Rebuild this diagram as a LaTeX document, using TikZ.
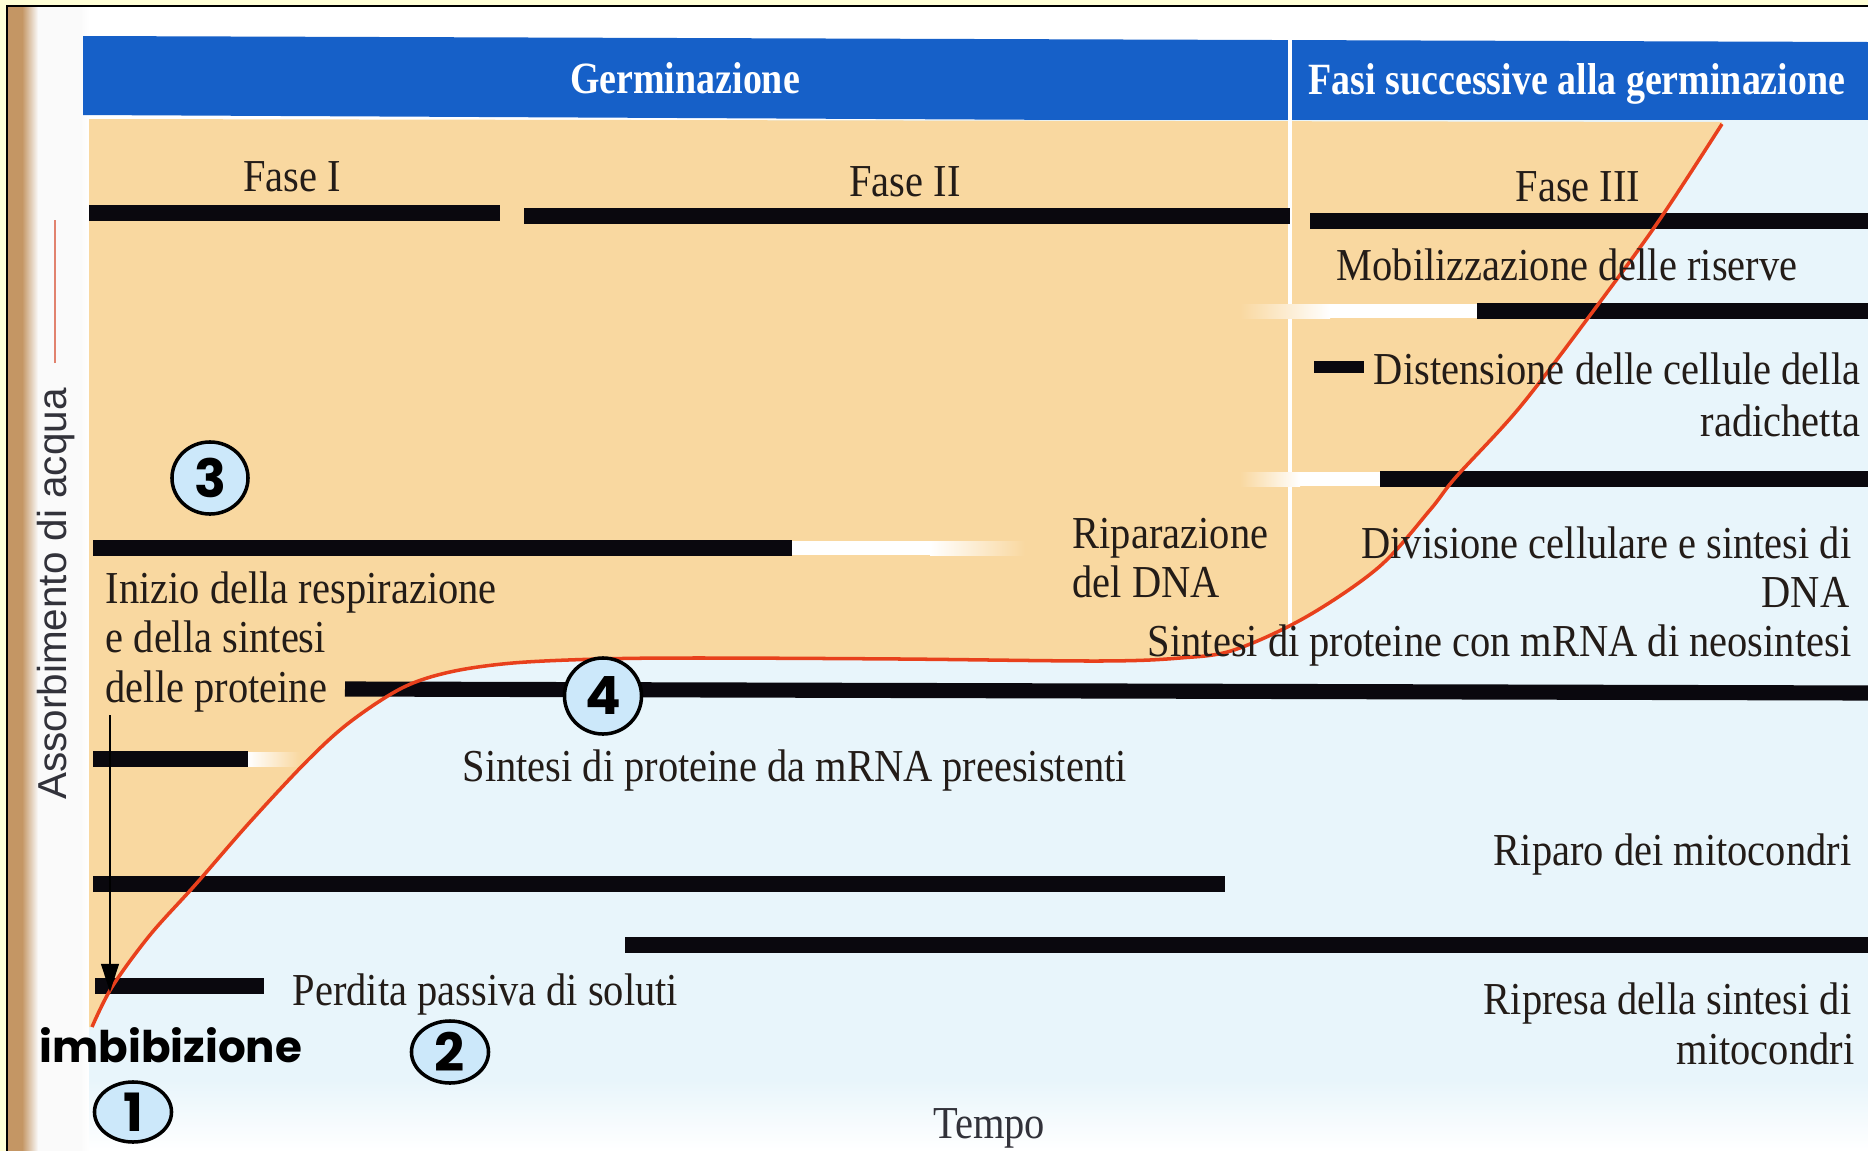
\documentclass[tikz,border=0pt]{standalone}
\usepackage{fontspec}
\setmainfont{Liberation Serif}
\newfontfamily\bodyfont[FakeStretch=0.885]{Liberation Serif}
\newfontfamily\hdrfont[FakeStretch=0.85]{Liberation Serif}
\newfontfamily\popfont{Poppins}
\newfontfamily\axfont{Liberation Sans}
\usetikzlibrary{arrows.meta,shapes.geometric}

\definecolor{bgyellow}{RGB}{255,255,214}
\definecolor{bandblue}{RGB}{22,96,200}
\definecolor{peach}{RGB}{249,216,160}
\definecolor{paleblue}{RGB}{232,245,251}
\definecolor{barblack}{RGB}{10,8,14}
\definecolor{curvered}{RGB}{232,64,28}
\definecolor{circfill}{RGB}{204,232,250}
\definecolor{spine}{RGB}{196,150,100}
\definecolor{inktext}{RGB}{35,28,24}
\definecolor{axisgrey}{RGB}{50,50,58}
\definecolor{salmon}{RGB}{225,130,110}

\begin{document}
\begin{tikzpicture}[x=0.01cm,y=-0.01cm,
  bar/.style={line width=4.3pt, draw=barblack},
  lbl/.style={inner sep=0pt, text=inktext, font=\bodyfont\fontsize{13}{15}\selectfont},
  hdr/.style={inner sep=0pt, text=white, font=\hdrfont\bfseries\fontsize{12.7}{15}\selectfont},
  numcirc/.style={ellipse, draw=black, line width=1pt, fill=circfill, inner sep=0pt,
    font=\popfont\bfseries\fontsize{15}{15}\selectfont},
]
\useasboundingbox (0,0) rectangle (1868,1151);
% background and frame
\fill[bgyellow] (0,0) rectangle (1868,1151);
\fill[white] (8,7) rectangle (1868,1151);
\draw[black, line width=0.7pt] (7,1151) -- (7,6) -- (1868,6);
\fill[spine] (8,7) rectangle (22,1151);
\shade[left color=spine, right color=white!96!gray] (22,7) rectangle (38,1151);
\fill[white!96!gray] (38,7) rectangle (80,1151);
\shade[left color=white!96!gray, right color=white] (80,7) rectangle (89,1151);

% header band
\fill[bandblue] (83,36) -- (1868,42) -- (1868,124) -- (83,115) -- cycle;

% lower pale region
\fill[paleblue] (89,120) rectangle (1868,1080);
\shade[top color=paleblue, bottom color=white] (89,1080) rectangle (1868,1151);

% peach region above the curve
\fill[peach] plot[smooth, tension=0.55] coordinates {(92,1027) (112,987) (150,935) (196,884) (250,822) (308,760) (350,722) (402,688) (450,672) (513,663) (600,659) (700,658) (900,659) (1100,661) (1180,658) (1234,650) (1306,617) (1379,567) (1430,510) (1456,477) (1520,407) (1594,310) (1658,222) (1722,124)}
  -- (1722,122) -- (89,119) -- (89,1027) -- cycle;

% divider
\draw[white, line width=1.2pt] (1290,36) -- (1290,626);

% fades
\shade[left color=peach, right color=white] (1240,304) rectangle (1330,318);
\fill[white] (1330,304) rectangle (1477,318);
\shade[left color=peach, right color=white] (1240,472) rectangle (1300,486);
\fill[white] (1300,472) rectangle (1380,486);
\fill[white] (792,541) rectangle (930,555);
\shade[left color=white, right color=peach] (930,541) rectangle (1025,555);
\shade[left color=white, right color=peach] (248,752) rectangle (300,766);

% bars
\draw[bar] (89,213) -- (500,213);
\draw[bar] (524,216) -- (1290,216);
\draw[bar] (1310,221) -- (1868,221);
\draw[bar] (1477,311) -- (1868,311);
\draw[bar, line width=3.6pt] (1314,367) -- (1364,367);
\draw[bar] (1380,479) -- (1868,479);
\draw[bar] (93,548) -- (792,548);
\draw[bar] (345,689) -- (1868,693);
\draw[bar] (93,759) -- (248,759);
\draw[bar] (93,884) -- (1225,884);
\draw[bar] (625,945) -- (1868,945);
\draw[bar] (95,986) -- (264,986);

% water uptake curve
\draw[curvered, line width=1pt] plot[smooth, tension=0.55] coordinates {(92,1027) (112,987) (150,935) (196,884) (250,822) (308,760) (350,722) (402,688) (450,672) (513,663) (600,659) (700,658) (900,659) (1100,661) (1180,658) (1234,650) (1306,617) (1379,567) (1430,510) (1456,477) (1520,407) (1594,310) (1658,222) (1722,124)};

% header texts
\node[hdr] (germ) at (685,78) {Germinazione};
\node[hdr] (fasisucc) at (1577,84) {Fasi successive alla germinazione};

% labels
\node[lbl, anchor=mid] (f1) at (292,183) {Fase I};
\node[lbl, anchor=mid] (f2) at (905,188) {Fase II};
\node[lbl, anchor=mid] (f3) at (1578,193) {Fase III};
\node[lbl, anchor=mid] (mob) at (1567,272) {Mobilizzazione delle riserve};
\node[lbl, anchor=mid east] (dist1) at (1861,376) {Distensione delle cellule della};
\node[lbl, anchor=mid east] (dist2) at (1861,428) {radichetta};
\node[lbl, anchor=mid west] (rip1) at (1072,540) {Riparazione};
\node[lbl, anchor=mid west] (rip2) at (1072,589) {del DNA};
\node[lbl, anchor=mid east] (div1) at (1852,550) {Divisione cellulare e sintesi di};
\node[lbl, anchor=mid east] (div2) at (1850,599) {DNA};
\node[lbl, anchor=mid east] (neo) at (1852,648) {Sintesi di proteine con mRNA di neosintesi};
\node[lbl, anchor=mid west] (ini1) at (105,595) {Inizio della respirazione};
\node[lbl, anchor=mid west] (ini2) at (105,644) {e della sintesi};
\node[lbl, anchor=mid west] (ini3) at (105,694) {delle proteine};
\node[lbl, anchor=mid west] (pre) at (462,773) {Sintesi di proteine da mRNA preesistenti};
\node[lbl, anchor=mid east] (ripmit) at (1852,857) {Riparo dei mitocondri};
\node[lbl, anchor=mid east] (ripr1) at (1852,1006) {Ripresa della sintesi di};
\node[lbl, anchor=mid east] (ripr2) at (1855,1056) {mitocondri};
\node[lbl, anchor=mid west] (perd) at (292,997) {Perdita passiva di soluti};
\node[lbl, anchor=mid, text=axisgrey] (tempo) at (989,1130) {Tempo};
\node[inner sep=0pt, anchor=mid west, font=\popfont\bfseries\fontsize{12.4}{15}\selectfont] (imb) at (39,1054) {imbibizione};

% y axis label and legend line
\node[inner sep=0pt, rotate=90, text=axisgrey, font=\axfont\fontsize{11.5}{14}\selectfont] (axlab) at (56,594) {Assorbimento di acqua};
\coordinate (lg1) at (55,363);
\coordinate (lg2) at (55,220);
\draw[salmon, line width=0.7pt] (lg1) -- (lg2);

% arrow
\coordinate (ar1) at (110,715);
\coordinate (ar2) at (110,992);
\draw[black, line width=0.7pt, -{Triangle[length=8pt,width=5pt]}] (ar1) -- (ar2);

% numbered circles
\node[numcirc, minimum width=0.76cm, minimum height=0.72cm] (c3) at (210,478) {3};
\node[numcirc, minimum width=0.77cm, minimum height=0.76cm] (c4) at (603,696) {4};
\node[numcirc, minimum width=0.77cm, minimum height=0.62cm] (c2) at (450,1052) {2};
\node[numcirc, minimum width=0.77cm, minimum height=0.60cm] (c1) at (133,1112) {1};
\end{tikzpicture}
\end{document}
